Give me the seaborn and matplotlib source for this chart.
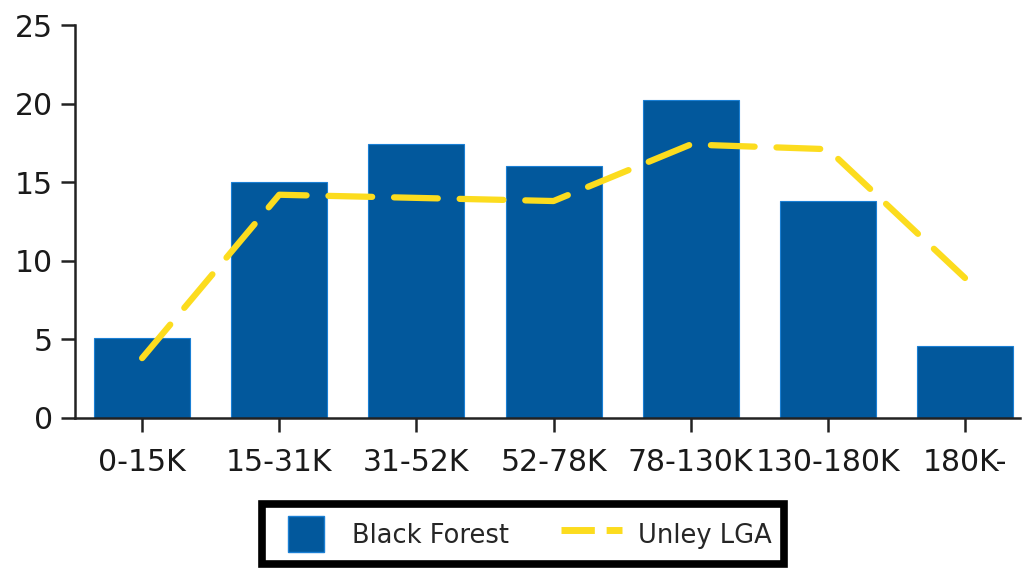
import numpy as np
import pandas as pd
import matplotlib
matplotlib.use("Agg")
import matplotlib.pyplot as plt
import seaborn as sns
from matplotlib.patches import Patch, Rectangle
from matplotlib.lines import Line2D
from matplotlib.legend_handler import HandlerPatch

categories = ["0-15K", "15-31K", "31-52K", "52-78K", "78-130K", "130-180K", "180K-"]
black_forest = [5.1, 15.0, 17.4, 16.0, 20.2, 13.8, 4.6]
unley_lga = [3.8, 14.2, 14.0, 13.8, 17.4, 17.1, 8.9]
y_ticks = [0, 5, 10, 15, 20, 25]

sns.set_theme(style="ticks")
plt.rcParams['font.family'] = ['DejaVu Sans']

bar_color = "#02589c"
line_color = "#fcdc1e"

fig = plt.figure(figsize=(10.26, 5.70), dpi=100)
ax = fig.add_axes([0.073, 0.267, 0.921, 0.689])

df = pd.DataFrame({"cat": categories, "bf": black_forest, "ul": unley_lga})
sns.barplot(data=df, x="cat", y="bf", color=bar_color, saturation=1, width=0.7,
            edgecolor="#1a7fd4", linewidth=0.8, ax=ax)
sns.lineplot(x=np.arange(len(categories)), y=unley_lga, color=line_color, lw=4.5,
             ax=ax, solid_capstyle="round")
line = ax.lines[-1]
line.set_dashes([7, 3.5])
line.set_dash_capstyle("round")

ax.set_xlim(-0.49, 6.4)
ax.set_ylim(0, 25)
ax.set_yticks(y_ticks)
ax.set_xlabel("")
ax.set_ylabel("")
ax.tick_params(axis="both", length=10, width=1.8, color="#222222", labelsize=21.5,
               labelcolor="#1a1a1a", pad=6)
ax.tick_params(axis="x", pad=12)
for s in ["top", "right"]:
    ax.spines[s].set_visible(False)
for s in ["left", "bottom"]:
    ax.spines[s].set_linewidth(1.8)
    ax.spines[s].set_color("#222222")


def square_patch(legend, orig_handle, xdescent, ydescent, width, height, fontsize):
    s = height * 1.05
    return Rectangle((-xdescent + (width - s) / 2, -ydescent - (s - height) / 2), s, s)


handles = [Patch(facecolor=bar_color, edgecolor="#1a7fd4", label="Black Forest"),
           Line2D([0], [0], color=line_color, lw=5, dashes=[4.8, 1.7], label="Unley LGA")]
leg = fig.legend(handles=handles, loc="upper center", bbox_to_anchor=(0.51, 0.115),
                 ncol=2, frameon=True, fancybox=False, fontsize=18.5, framealpha=1,
                 handlelength=2.4, handleheight=1.65, columnspacing=2.0,
                 borderpad=0.5, handletextpad=0.6, borderaxespad=0,
                 handler_map={Patch: HandlerPatch(patch_func=square_patch)})
frame = leg.get_frame()
frame.set_edgecolor("black")
frame.set_linewidth(5.5)

fig.savefig("out.png", dpi=100)
